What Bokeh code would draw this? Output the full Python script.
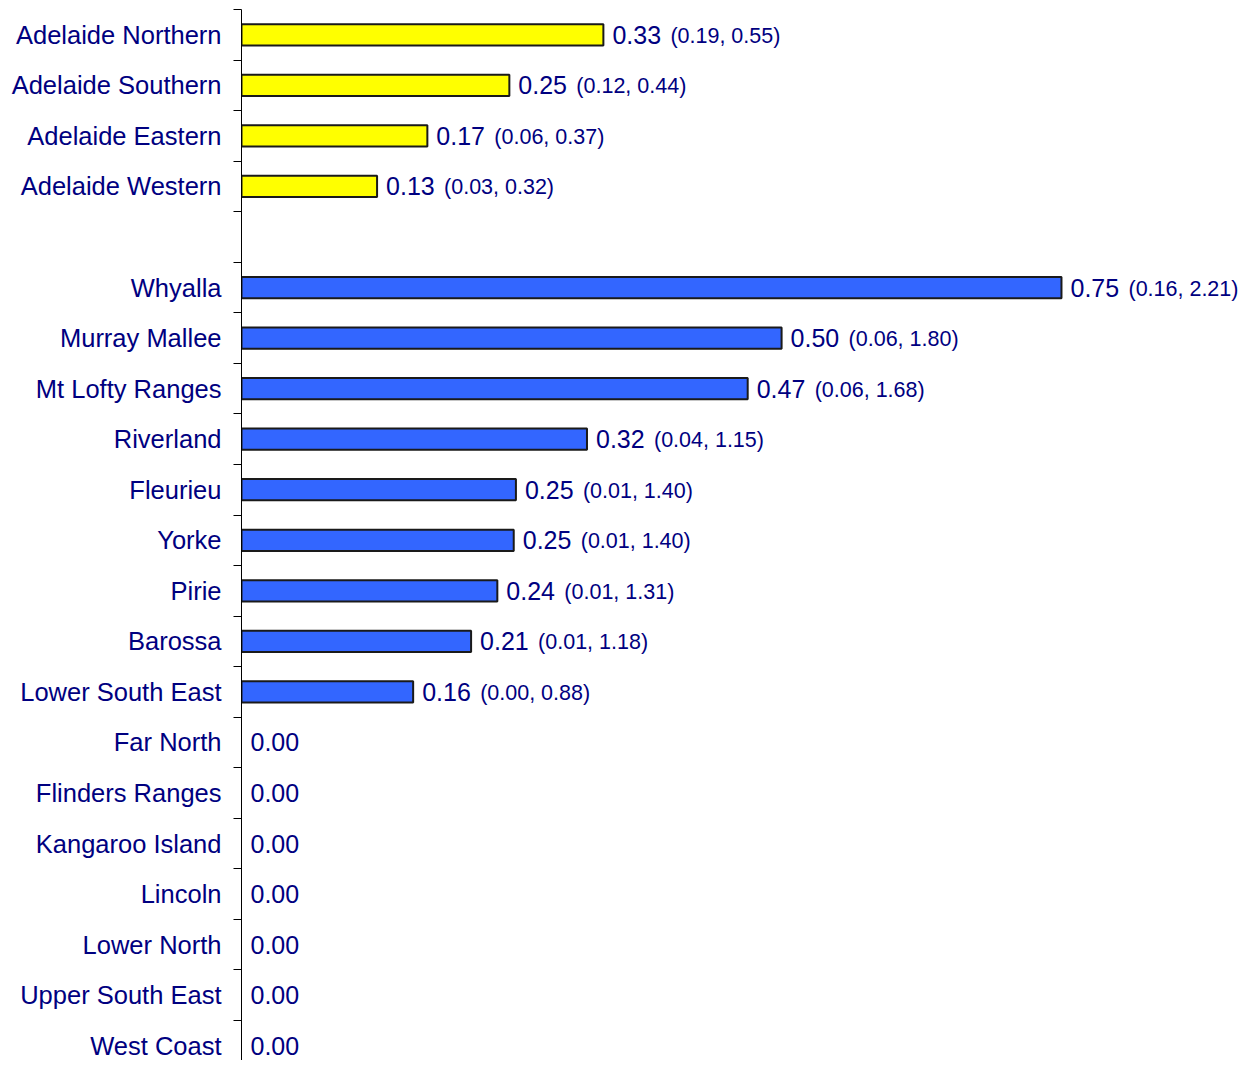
from bokeh.plotting import figure
from bokeh.models import Range1d, FixedTicker, ColumnDataSource
from bokeh.core.properties import value
from bokeh.embed import file_html
from bokeh.resources import INLINE

regions_adl = ["Adelaide Northern", "Adelaide Southern", "Adelaide Eastern", "Adelaide Western"]
vals_adl = [0.331, 0.245, 0.170, 0.124]
est_adl = ["0.33", "0.25", "0.17", "0.13"]
ci_adl = ["(0.19, 0.55)", "(0.12, 0.44)", "(0.06, 0.37)", "(0.03, 0.32)"]

regions_cty = ["Whyalla", "Murray Mallee", "Mt Lofty Ranges", "Riverland", "Fleurieu", "Yorke",
               "Pirie", "Barossa", "Lower South East", "Far North", "Flinders Ranges",
               "Kangaroo Island", "Lincoln", "Lower North", "Upper South East", "West Coast"]
vals_cty = [0.750, 0.494, 0.463, 0.316, 0.251, 0.249, 0.234, 0.210, 0.157,
            0, 0, 0, 0, 0, 0, 0]
est_cty = ["0.75", "0.50", "0.47", "0.32", "0.25", "0.25", "0.24", "0.21", "0.16",
           "0.00", "0.00", "0.00", "0.00", "0.00", "0.00", "0.00"]
ci_cty = ["(0.16, 2.21)", "(0.06, 1.80)", "(0.06, 1.68)", "(0.04, 1.15)", "(0.01, 1.40)",
          "(0.01, 1.40)", "(0.01, 1.31)", "(0.01, 1.18)", "(0.00, 0.88)",
          "", "", "", "", "", "", ""]

YELLOW = "#FFFF00"
BLUE = "#3366FF"
NAVY = "#000080"
FONT = "Liberation Sans"

# slot positions: Adelaide group, one empty slot, then country regions
pos_adl = list(range(len(regions_adl)))
pos_cty = [len(regions_adl) + 1 + i for i in range(len(regions_cty))]

names = regions_adl + regions_cty
pos = pos_adl + pos_cty
vals = vals_adl + vals_cty
ests = est_adl + est_cty
cis = ci_adl + ci_cty
colors = [YELLOW] * len(regions_adl) + [BLUE] * len(regions_cty)

n_slots = pos[-1] + 1

H = 1060
TOP = 9
LEFT = 241
W = 1242
p = figure(width=W, height=H, output_backend="svg", toolbar_location=None,
           x_range=Range1d(0, (W - LEFT) / 1093.3),
           y_range=Range1d(-0.5 + (H - TOP) / 50.55, -0.5),
           min_border_left=LEFT, min_border_right=0, min_border_top=TOP, min_border_bottom=0)
p.outline_line_color = None
p.xgrid.visible = False
p.ygrid.visible = False
p.xaxis.visible = False
p.background_fill_color = "white"
p.border_fill_color = "white"

yax = p.yaxis[0]
yax.ticker = FixedTicker(ticks=pos, minor_ticks=[i - 0.5 for i in range(n_slots + 1)])
yax.major_label_overrides = {pp: nm for pp, nm in zip(pos, names)}
yax.major_tick_out = 0
yax.major_tick_in = 0
yax.minor_tick_out = 8
yax.minor_tick_in = 0
yax.minor_tick_line_color = "black"
yax.axis_line_color = "black"
yax.axis_line_width = 1
yax.major_label_standoff = 12
yax.major_label_text_font = FONT
yax.major_label_text_font_size = "25.5px"
yax.major_label_text_color = NAVY

bar_src = ColumnDataSource(dict(
    y=[pp for pp, v in zip(pos, vals) if v > 0],
    right=[v for v in vals if v > 0],
    color=[c for c, v in zip(colors, vals) if v > 0],
))
p.hbar(y="y", left=0, right="right", height=0.42, source=bar_src,
       fill_color="color", line_color="#1a1a1a", line_width=2)

lab_src = ColumnDataSource(dict(x=vals, y=pos, t=ests))
p.text(x="x", y="y", text="t", source=lab_src, x_offset=9,
       text_font=value(FONT), text_font_size="25px", text_color=NAVY,
       text_baseline="middle", text_align="left")

ci_src = ColumnDataSource(dict(
    x=[v for v, c in zip(vals, cis) if c],
    y=[pp for pp, c in zip(pos, cis) if c],
    t=[c for c in cis if c],
))
p.text(x="x", y="y", text="t", source=ci_src, x_offset=67, y_offset=1,
       text_font=value(FONT), text_font_size="21.5px", text_color=NAVY,
       text_baseline="middle", text_align="left")

open("out.html", "w").write(file_html(p, INLINE))
